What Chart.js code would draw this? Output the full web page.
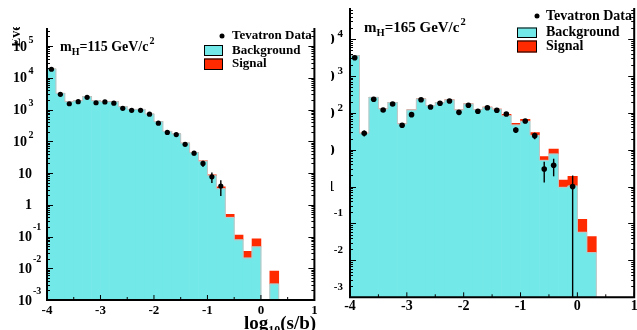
<!DOCTYPE html>
<html><head><meta charset="utf-8">
<script src="https://cdn.jsdelivr.net/npm/chart.js@4"></script>
<style>
html,body{margin:0;padding:0;background:#fff;}
body{width:637px;height:330px;position:relative;overflow:hidden;}
#boxL{position:absolute;left:0;top:0;width:317px;height:330px;}
#boxR{position:absolute;left:331px;top:0;width:306px;height:330px;}
</style></head><body>
<div id="boxL"><canvas id="cL" width="317" height="330"></canvas></div>
<div id="boxR"><canvas id="cR" width="306" height="330"></canvas></div>
<script>
// =======================
// Binning / axes
// =======================
const binCenters = [-3.917,-3.750,-3.583,-3.417,-3.250,-3.083,
                    -2.917,-2.750,-2.583,-2.417,-2.250,-2.083,
                    -1.917,-1.750,-1.583,-1.417,-1.250,-1.083,
                    -0.917,-0.750,-0.583,-0.417,-0.250,-0.083,
                     0.083, 0.250, 0.417, 0.583, 0.750, 0.917];
const xMajor = [-4,-3,-2,-1,0,1];
const xMinor = [-3.5,-2.5,-1.5,-0.5,0.5];
const yExp = [-3,-2,-1,0,1,2,3,4,5];
const legendLabels = ["Tevatron Data","Background","Signal"];

// =======================
// m_H = 115 GeV/c^2
// =======================
const data115 = [18500,3000,1520,1770,2420,1630,1730,1580,1090,940,940,710,370,190,162,80,42,20,7.6,3.9];
const err115  = [136,55,39,42,49,40,42,40,33,31,31,27,19,14,13,9,6.5,4.5,2.8,2.0];
const bkg115  = [18900,3240,1760,1890,2530,1890,1760,1760,1220,1010,1010,720,413,205,170,87,44,23.4,8.2,3.2,0.40,0.078,0.021,0.047,null,0.0032,null,null,null,null];
const sig115  = [0.5,0.3,0.3,0.3,0.4,0.4,0.4,0.5,0.5,0.6,0.6,0.7,0.8,0.9,1.0,1.1,1.0,0.8,0.5,0.5,0.10,0.033,0.013,0.038,null,0.005,null,null,null,null];

// =======================
// m_H = 165 GeV/c^2
// =======================
const data165 = [3110,28,232,119,173,46,89,226,144,181,209,103,160,110,137,117,93,34,60,24,3,3.8,null,1];
const err165  = [56,5.3,15,11,13,6.8,9.4,15,12,13.5,14.5,10,12.6,10.5,11.7,10.8,9.6,5.8,7.7,4.9,1.7,1.9,null,1];
const bkg165  = [3530,27.8,263,127,188,49.7,119,237,156,188,222,119,173,122,141,124,83,46.7,58.9,24.5,5.16,7.64,0.957,1.04,0.058,0.0162,null,null,null,null];
const sig165  = [0.3,0.2,0.4,0.3,0.5,0.4,0.6,1.0,1.0,1.2,1.5,1.2,1.8,2.0,2.5,3.0,8,5.2,7.8,4.4,1.3,2.8,0.55,0.86,0.072,0.028,null,null,null,null];

// =======================
// Helpers
// =======================
const SERIF='"Liberation Serif","DejaVu Serif","Times New Roman",serif';
const CYAN='#72e8e8', RED='#ff2a00';
function pts(vals){ return binCenters.map((x,i)=>({x, y: vals[i]==null?null:vals[i]})); }
function txt(ctx,s,x,y,px,align,base){
  ctx.font='bold '+px+'px '+SERIF; ctx.textAlign=align||'left'; ctx.textBaseline=base||'middle';
  ctx.fillText(s,x,y); return ctx.measureText(s).width;
}

function rootPlugin(o){ return {
  id:'root',
  afterDatasetDraw(chart,args){
    if(args.index!==1) return;
    // grey outline of background histogram
    const {ctx,chartArea:a,scales:{x,y}}=chart;
    const d=chart.data.datasets[1].data;
    ctx.save(); ctx.beginPath(); ctx.rect(a.left,a.top,a.right-a.left,a.bottom-a.top); ctx.clip();
    ctx.beginPath(); let xr=0;
    d.forEach((p,i)=>{
      const xl=x.getPixelForValue(p.x-o.bw/2); xr=x.getPixelForValue(p.x+o.bw/2);
      const yt=p.y?y.getPixelForValue(p.y):a.bottom;
      if(i===0) ctx.moveTo(xl,a.bottom);
      ctx.lineTo(xl,yt); ctx.lineTo(xr,yt);
    });
    ctx.lineTo(xr,a.bottom);
    ctx.strokeStyle='#c4c4c4'; ctx.lineWidth=1; ctx.stroke(); ctx.restore();
  },
  beforeDatasetDraw(chart,args){
    if(args.index!==0) return;
    // error bars, under the markers
    const {ctx,chartArea:a,scales:{x,y}}=chart;
    const d=chart.data.datasets[0].data;
    ctx.save(); ctx.strokeStyle='#000'; ctx.lineWidth=1.4;
    d.forEach((p,i)=>{
      if(p.y==null||!o.err[i]) return;
      const px=x.getPixelForValue(p.x);
      const lo=p.y-o.err[i]>0?y.getPixelForValue(p.y-o.err[i]):a.bottom;
      const hi=y.getPixelForValue(p.y+o.err[i]);
      ctx.beginPath(); ctx.moveTo(px,hi); ctx.lineTo(px,lo); ctx.stroke();
    });
    ctx.restore();
  },
  afterDraw(chart){
    const {ctx,chartArea:a,scales:{x,y}}=chart;
    ctx.save(); ctx.fillStyle='#000'; ctx.strokeStyle='#000';
    // frame (left, bottom, right)
    ctx.lineWidth=2; ctx.beginPath();
    ctx.moveTo(a.left,a.top); ctx.lineTo(a.left,a.bottom); ctx.lineTo(a.right,a.bottom); ctx.lineTo(a.right,a.top); ctx.stroke();
    // ticks, pointing inwards
    ctx.lineWidth=1; ctx.beginPath();
    xMajor.forEach(v=>{ const px=x.getPixelForValue(v); ctx.moveTo(px,a.bottom); ctx.lineTo(px,a.bottom-o.tick[0]); });
    xMinor.forEach(v=>{ const px=x.getPixelForValue(v); ctx.moveTo(px,a.bottom); ctx.lineTo(px,a.bottom-o.tick[1]); });
    yExp.forEach(e=>{
      for(let k=1;k<10;k++){
        const v=k*Math.pow(10,e); if(v>y.max) break;
        const py=Math.round(y.getPixelForValue(v))+0.5, len=k===1?o.tick[2]:o.tick[3];
        ctx.moveTo(a.left,py); ctx.lineTo(a.left+len,py); ctx.moveTo(a.right,py); ctx.lineTo(a.right-len,py);
      }
    });
    ctx.stroke();
    // y labels
    const L=o.yl;
    yExp.forEach(e=>{
      const v=Math.pow(10,e); if(v>y.max) return;
      const py=y.getPixelForValue(v);
      if(e===0||e===1){ txt(ctx,e===0?'1':'10',L.plainR,py+L.bDy,L.bf,'right'); return; }
      const s=e>0?L.pos:L.neg;
      if(s.bR!=null) txt(ctx,'10',s.bR,py+L.bDy,L.bf,'right');
      txt(ctx,String(e),s.eX,py+s.eDy,L.ef,s.eA);
    });
    // x labels
    xMajor.forEach(v=>txt(ctx,String(v),x.getPixelForValue(v),o.xl.y,o.xl.f,'center'));
    // x title  log10(s/b)
    let t=o.title, cx=t.x;
    cx+=txt(ctx,'log',cx,t.y,t.f,'left','alphabetic');
    cx+=txt(ctx,'10',cx,t.y+t.sdy,t.sf,'left','alphabetic');
    txt(ctx,'(s/b)',cx,t.y,t.f,'left','alphabetic');
    // y title, cut by the figure edge
    if(o.ytitle){
      const yt=o.ytitle;
      ctx.save(); ctx.beginPath(); ctx.rect(yt.clipX,yt.clipY,40,80); ctx.clip();
      ctx.translate(yt.x,yt.y); ctx.rotate(-Math.PI/2);
      txt(ctx,'Events',0,0,yt.f,'left','alphabetic'); ctx.restore();
    }
    // mass label
    const n=o.note; cx=n.x;
    cx+=txt(ctx,'m',cx,n.y,n.f);
    cx+=txt(ctx,'H',cx,n.y+n.sub,n.sf);
    cx+=txt(ctx,'='+n.mass+' GeV/c',cx,n.y,n.f);
    txt(ctx,'2',cx+1,n.y-n.sup,n.sf);
    // legend
    const g=o.leg;
    ctx.beginPath(); ctx.arc(g.dotX,g.ys[0],g.r,0,Math.PI*2); ctx.fill();
    [CYAN,RED].forEach((c,i)=>{
      const b=g.boxes[i];
      ctx.fillStyle=c; ctx.fillRect(g.boxX,b[0],g.boxW,b[1]);
      ctx.strokeStyle='#000'; ctx.lineWidth=1; ctx.strokeRect(g.boxX+0.5,b[0]+0.5,g.boxW-1,b[1]-1);
    });
    ctx.fillStyle='#000';
    legendLabels.forEach((s,i)=>txt(ctx,s,g.textX,g.ys[i],g.f));
    ctx.restore();
  }
};}

function makeChart(id,data,err,bkg,sig,o){
  o.err=err;
  return new Chart(document.getElementById(id),{
    type:'bar',
    data:{ datasets:[
      { type:'line', label:legendLabels[0], data:pts(data), showLine:false, pointRadius:o.r, pointHoverRadius:o.r,
        pointBackgroundColor:'#000', pointBorderWidth:0, borderColor:'#000' },
      { label:legendLabels[1], data:pts(bkg), backgroundColor:CYAN, borderWidth:0, stack:'h', categoryPercentage:1, barPercentage:1 },
      { label:legendLabels[2], data:pts(sig), backgroundColor:RED, borderWidth:0, stack:'h', categoryPercentage:1, barPercentage:1 }
    ]},
    options:{
      responsive:false, animation:false, events:[],
      layout:{ padding:o.pad },
      scales:{
        x:{ type:'linear', min:-4, max:1, offset:false, display:false, stacked:true },
        y:{ type:'logarithmic', min:1e-3, max:o.ymax, display:false, stacked:true }
      },
      plugins:{ legend:{display:false}, tooltip:{enabled:false} }
    },
    plugins:[rootPlugin(o)]
  });
}

// =======================
// Panels
// =======================
makeChart('cL',data115,err115,bkg115,sig115,{
  bw:1/6, r:2.6, ymax:3.69e5, pad:{left:47,right:2,top:28,bottom:30},
  tick:[5,3,6,3],
  yl:{ bf:14, ef:10, bDy:1, plainR:32,
       pos:{bR:27, eX:28.5, eA:'left', eDy:-6}, neg:{bR:32, eX:33, eA:'left', eDy:-9} },
  xl:{ y:311, f:13 },
  title:{ x:244, y:329, f:19, sf:12, sdy:5 },
  ytitle:{ x:20, y:47, f:14, clipX:12, clipY:27 },
  note:{ x:60, y:47, f:14, sf:10, sub:5, sup:6, mass:'115' },
  leg:{ dotX:222, textX:232, ys:[36,50.5,64], r:2.5, boxX:204, boxW:19, boxes:[[45,11],[58.5,11.5]], f:13 }
});
makeChart('cR',data165,err165,bkg165,sig165,{
  bw:1/6, r:2.8, ymax:6.92e4, pad:{left:19,right:2,top:8,bottom:32.7},
  tick:[5,3,6,3],
  yl:{ bf:15, ef:11, bDy:1, plainR:3.8,
       pos:{bR:3.8, eX:12, eA:'right', eDy:-5}, neg:{bR:null, eX:12, eA:'right', eDy:-10} },
  xl:{ y:306.5, f:14 },
  title:{ x:552, y:327, f:20, sf:13, sdy:5 },
  ytitle:null,
  note:{ x:33, y:28, f:15, sf:10.5, sub:5, sup:6, mass:'165' },
  leg:{ dotX:206, textX:215, ys:[16,32.3,46.5], r:2.5, boxX:186, boxW:20, boxes:[[27.5,10.5],[40.5,12]], f:14 }
});
</script>
</body></html>
